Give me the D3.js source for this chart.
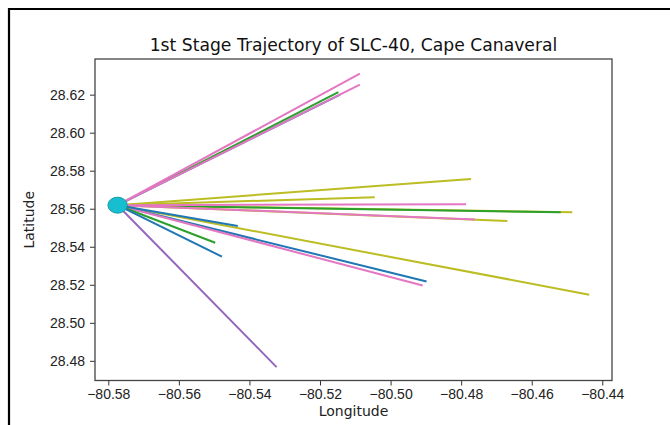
<!DOCTYPE html>
<html lang="en">
<head>
<meta charset="utf-8">
<title>1st Stage Trajectory of SLC-40</title>
<script src="https://cdn.jsdelivr.net/npm/d3@7"></script>
<style>
  body { margin: 0; background: #fff; }
  svg { display: block; font-family: "DejaVu Sans", sans-serif; }
  .tick text { fill: #222; font-size: 14px; }
  .tick line { stroke: #333; }
  .domain { stroke: none; }
</style>
</head>
<body>
<script>
// launch pad
const launchLon = -80.577366
const launchLat = 28.561857

// end points of each 1st stage track
const endLon = [-80.5143, -80.5148, -80.5087, -80.5087,
  -80.4485, -80.4518, -80.4669, -80.4761, -80.4772, -80.5045, -80.4786,
  -80.4437, -80.4898, -80.4909, -80.5433, -80.5497, -80.5478, -80.5323]
const endLat = [28.6200, 28.6213, 28.6253, 28.6311,
  28.5581, 28.5581, 28.5535, 28.5544, 28.5756, 28.5661, 28.5623,
  28.5148, 28.5217, 28.5196, 28.5509, 28.5421, 28.5348, 28.4767]
// tab10 colour index per track
const colorIdx = [0, 2, 6, 6, 8, 2, 8, 6, 8, 8, 6, 8, 0, 6, 0, 2, 0, 4]

const xTicks = [-80.58, -80.56, -80.54, -80.52, -80.50, -80.48, -80.46, -80.44]
const yTicks = [28.48, 28.50, 28.52, 28.54, 28.56, 28.58, 28.60, 28.62]

let w = 670
let h = 425
let padL = 95, padR = 612, padT = 59, padB = 380.5

let palette = d3.schemeCategory10

let svg = d3.select("body").append("svg")
  .attr("width", w)
  .attr("height", h)

// frame of the screenshot
svg.append("path")
  .attr("d", "M9," + h + "V9H" + w)
  .attr("fill", "none")
  .attr("stroke", "#000")
  .attr("stroke-width", 2.2)

let xScale = d3.scaleLinear()
  .domain([-80.58377, -80.43725])
  .range([padL, padR])

let yScale = d3.scaleLinear()
  .domain([28.46966, 28.63875])
  .range([padB, padT])

let xAxis = d3.axisBottom(xScale)
  .tickValues(xTicks)
  .tickFormat(d3.format(".2f"))
  .tickSize(5)
  .tickPadding(4)

let yAxis = d3.axisLeft(yScale)
  .tickValues(yTicks)
  .tickFormat(d3.format(".2f"))
  .tickSize(5)
  .tickPadding(5)

svg.append("g")
  .attr("transform", "translate(0," + padB + ")")
  .call(xAxis)

svg.append("g")
  .attr("transform", "translate(" + padL + ",0)")
  .call(yAxis)

// tracks
let tracks = endLon.map((lon, i) => ({ lon: lon, lat: endLat[i], c: colorIdx[i] }))

svg.selectAll("line.track")
  .data(tracks)
  .enter()
  .append("line")
  .attr("class", "track")
  .attr("x1", xScale(launchLon))
  .attr("y1", yScale(launchLat))
  .attr("x2", (d) => xScale(d.lon))
  .attr("y2", (d) => yScale(d.lat))
  .attr("stroke", (d) => palette[d.c])
  .attr("stroke-width", 2)

// launch site marker
svg.append("ellipse")
  .attr("cx", xScale(launchLon))
  .attr("cy", yScale(launchLat))
  .attr("rx", 9.7)
  .attr("ry", 8)
  .attr("fill", palette[9])
  .attr("stroke", "#1a9aa6")
  .attr("stroke-width", 1)

// spines
svg.append("rect")
  .attr("x", padL)
  .attr("y", padT)
  .attr("width", padR - padL)
  .attr("height", padB - padT)
  .attr("fill", "none")
  .attr("stroke", "#444")
  .attr("stroke-width", 1.3)

svg.append("text")
  .attr("x", (padL + padR) / 2)
  .attr("y", 51)
  .attr("text-anchor", "middle")
  .attr("font-size", "17.2px")
  .attr("fill", "#111")
  .text("1st Stage Trajectory of SLC-40, Cape Canaveral")

svg.append("text")
  .attr("x", (padL + padR) / 2)
  .attr("y", 416)
  .attr("text-anchor", "middle")
  .attr("font-size", "14px")
  .attr("fill", "#222")
  .text("Longitude")

svg.append("text")
  .attr("transform", "translate(34," + (padT + padB) / 2 + ") rotate(-90)")
  .attr("text-anchor", "middle")
  .attr("font-size", "14px")
  .attr("fill", "#222")
  .text("Latitude")
</script>
</body>
</html>
